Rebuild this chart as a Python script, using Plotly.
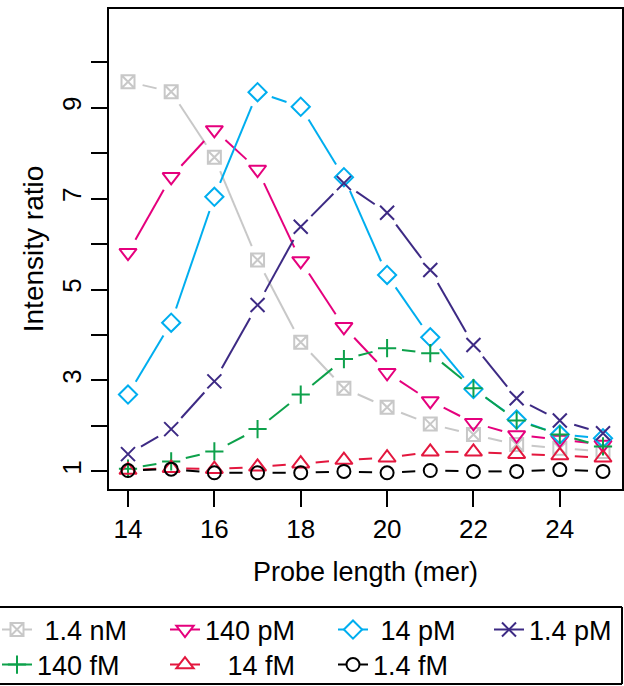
import math
import plotly.graph_objects as go

# ---------------- data ----------------
probe_length = [14, 15, 16, 17, 18, 19, 20, 21, 22, 23, 24, 25]
x_tick_vals = [14, 16, 18, 20, 22, 24]
y_tick_vals = [1, 2, 3, 4, 5, 6, 7, 8, 9, 10]
y_tick_text = ["1", "", "3", "", "5", "", "7", "", "9", ""]

conc_1_4nM = [9.57, 9.35, 7.91, 5.65, 3.84, 2.83, 2.41, 2.04, 1.81, 1.59, 1.51, 1.44]
conc_140pM = [5.81, 7.48, 8.51, 7.64, 5.63, 4.18, 3.17, 2.55, 2.07, 1.80, 1.70, 1.59]
conc_14pM = [2.69, 4.27, 7.04, 9.34, 9.02, 7.47, 5.32, 3.95, 2.81, 2.14, 1.81, 1.73]
conc_1_4pM = [1.38, 1.93, 2.98, 4.66, 6.38, 7.34, 6.69, 5.43, 3.78, 2.61, 2.12, 1.84]
conc_140fM = [1.06, 1.22, 1.44, 1.93, 2.69, 3.47, 3.71, 3.60, 2.83, 2.12, 1.81, 1.55]
conc_14fM = [1.03, 1.07, 1.05, 1.10, 1.17, 1.25, 1.30, 1.43, 1.43, 1.38, 1.35, 1.30]
conc_1_4fM = [1.02, 1.05, 0.97, 0.97, 0.97, 1.00, 0.97, 1.02, 1.00, 1.00, 1.04, 1.00]

series_names = ["1.4 nM", "140 pM", "14 pM", "1.4 pM", "140 fM", "14 fM", "1.4 fM"]
legend_labels = ["\u00a01.4 nM", "140 pM", "\u00a014 pM", "1.4 pM",
                 "140 fM", "\u00a0\u00a0\u00a014 fM", "1.4 fM"]
series_values = [conc_1_4nM, conc_140pM, conc_14pM, conc_1_4pM,
                 conc_140fM, conc_14fM, conc_1_4fM]

# ---------------- style ----------------
colors = ["#C8C8C8", "#E5007D", "#00AEEF", "#3D2A84", "#0DA14B", "#E3173E", "#000000"]
symbols = ["square-x", "triangle-down", "diamond", "x-thin", "cross-thin", "triangle-up", "circle"]
sizes = [13, 15, 14, 14, 13, 15, 13]
# legend placement (page pixels): column left edge, row
leg_col_px = [-3, 165, 333, 489, -3, 165, 333]
leg_row = [0, 0, 0, 0, 1, 1, 1]

FONT = "Liberation Sans, Arial, Helvetica, sans-serif"
FS = 26
OFF = 0  # page body margin (removed below via post_script)
W, H = 624 - OFF, 686 - OFF
ML, MR, MT, MB = 109 - OFF, 2, 9 - OFF, 686 - 489
PW, PH = W - ML - MR, H - MT - MB
XR = [13.56, 25.44]
YR = [0.613, 11.17]
GAP = 15  # px gap around points (R type="b")


def gapped(xs, ys):
    gx, gy = [], []
    for i in range(len(xs) - 1):
        ax = (xs[i] - XR[0]) / (XR[1] - XR[0]) * PW
        ay = (ys[i] - YR[0]) / (YR[1] - YR[0]) * PH
        bx = (xs[i + 1] - XR[0]) / (XR[1] - XR[0]) * PW
        by = (ys[i + 1] - YR[0]) / (YR[1] - YR[0]) * PH
        d = math.hypot(bx - ax, by - ay)
        if d <= 2 * GAP:
            continue
        ux, uy = (bx - ax) / d, (by - ay) / d
        for px, py in ((ax + ux * GAP, ay + uy * GAP), (bx - ux * GAP, by - uy * GAP)):
            gx.append(XR[0] + px / PW * (XR[1] - XR[0]))
            gy.append(YR[0] + py / PH * (YR[1] - YR[0]))
        gx.append(None)
        gy.append(None)
    return gx, gy


fig = go.Figure()
legend_layouts = {}
row_top_px = [605.5, 640.5]  # page px of legend item tops
for k, (name, lab, vals, col, sym, sz) in enumerate(zip(series_names, legend_labels, series_values,
                                                       colors, symbols, sizes)):
    lx, ly = gapped(probe_length, vals)
    fig.add_trace(go.Scatter(x=lx, y=ly, mode="lines", line=dict(color=col, width=2),
                             showlegend=False, hoverinfo="skip"))
    open_sym = sym + ("-open" if sym not in ("x-thin", "cross-thin") else "")
    fig.add_trace(go.Scatter(x=probe_length, y=vals, mode="markers", name=name,
                             marker=dict(symbol=open_sym, size=sz, color=col,
                                         line=dict(color=col, width=2)),
                             showlegend=False))
    lid = "legend" if k == 0 else "legend%d" % (k + 1)
    fig.add_trace(go.Scatter(x=[None], y=[None], mode="lines+markers", name=lab,
                             legend=lid,
                             line=dict(color=col, width=2),
                             marker=dict(symbol=sym, size=sz,
                                         color="white" if sym not in ("x-thin", "cross-thin") else col,
                                         line=dict(color=col, width=2))))
    fx = leg_col_px[k] - OFF
    fy = row_top_px[leg_row[k]] - OFF
    legend_layouts[lid] = dict(
        x=(fx - ML) / PW, y=(MT + PH - fy) / PH,
        orientation="v", xanchor="left", yanchor="top",
        bgcolor="rgba(0,0,0,0)", borderwidth=0,
        font=dict(family=FONT, size=27, color="black"),
        itemclick=False, itemdoubleclick=False)

axis_common = dict(showgrid=False, zeroline=False, showline=True, mirror=True,
                   linecolor="black", linewidth=2, ticks="outside", ticklen=16,
                   tickwidth=2, tickcolor="black",
                   tickfont=dict(family=FONT, size=FS, color="black"))

fig.update_xaxes(range=XR, tickvals=x_tick_vals,
                 title=dict(text="Probe length (mer)", font=dict(family=FONT, size=27, color="black"),
                            standoff=19),
                 **axis_common)
fig.update_yaxes(range=YR, tickvals=y_tick_vals, ticktext=y_tick_text, tickangle=-90,
                 title=dict(text="Intensity ratio", font=dict(family=FONT, size=28, color="black"),
                            standoff=5),
                 **axis_common)


def px_x(p):
    return (p - OFF - ML) / PW


def px_y(p):
    return (MT + PH - (p - OFF)) / PH


box_x0, box_x1, box_y0, box_y1 = -20, 622, 607, 684  # page px
box_line = dict(color="black", width=2)
fig.update_layout(
    width=W, height=H,
    margin=dict(l=ML, r=MR, t=MT, b=MB, autoexpand=False),
    paper_bgcolor="white", plot_bgcolor="white",
    font=dict(family=FONT, size=FS, color="black"),
    hovermode=False,
    shapes=[
        dict(type="line", xref="paper", yref="paper", x0=px_x(box_x0), x1=px_x(box_x1),
             y0=px_y(box_y0), y1=px_y(box_y0), line=box_line),
        dict(type="line", xref="paper", yref="paper", x0=px_x(box_x0), x1=px_x(box_x1),
             y0=px_y(box_y1), y1=px_y(box_y1), line=box_line),
        dict(type="line", xref="paper", yref="paper", x0=px_x(box_x1), x1=px_x(box_x1),
             y0=px_y(box_y0), y1=px_y(box_y1), line=box_line),
    ],
    **legend_layouts,
)

fig.write_html("out.html",
               config={"displayModeBar": False},
               post_script="document.body.style.margin='0';"
                           "document.documentElement.style.overflow='hidden';")
